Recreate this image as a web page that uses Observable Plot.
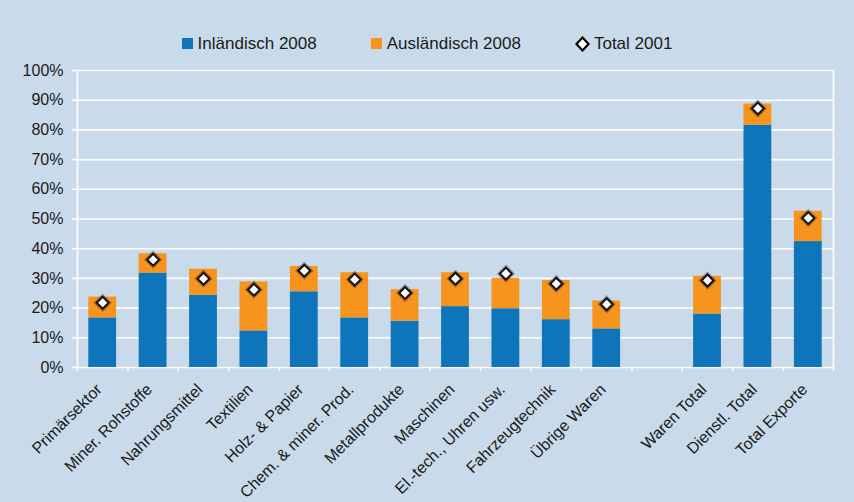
<!DOCTYPE html>
<html>
<head>
<meta charset="utf-8">
<script src="https://cdn.jsdelivr.net/npm/d3@7"></script>
<script src="https://cdn.jsdelivr.net/npm/@observablehq/plot@0.6"></script>
<style>
  html, body { margin: 0; padding: 0; background: #c9daea; overflow: hidden; }
  body { width: 854px; height: 502px; font-family: "Liberation Sans", Arial, sans-serif; color: #1a1a1a; }
  #legend { height: 56px; box-sizing: border-box; padding-top: 31px; display: flex; justify-content: center; align-items: center; font-size: 17px; line-height: 20px; }
  .item { display: flex; align-items: center; }
  .item + .item { margin-left: 54px; }
  .sw { width: 11px; height: 11px; margin-right: 5px; }
  .item svg { margin-right: 4px; }
</style>
</head>
<body>
<div id="legend"></div>
<div id="chart"></div>
<script>
const categories = ["Primärsektor","Miner. Rohstoffe","Nahrungsmittel","Textilien","Holz- & Papier","Chem. & miner. Prod.","Metallprodukte","Maschinen","El.-tech., Uhren usw.","Fahrzeugtechnik","Übrige Waren", null, "Waren Total","Dienstl. Total","Total Exporte"];
const inland2008  = [16.7, 31.8, 24.3, 12.3, 25.5, 16.7, 15.6, 20.5, 19.8, 16.1, 13.0, null, 18.0, 81.6, 42.4];
const ausland2008 = [ 7.0,  6.5,  8.8, 16.5,  8.5, 15.2, 10.6, 11.4, 10.2, 13.2,  9.4, null, 12.7,  7.1, 10.2];
const total2001   = [21.8, 36.3, 29.9, 26.2, 32.6, 29.6, 25.1, 29.9, 31.6, 28.2, 21.3, null, 29.3, 87.2, 50.3];
const seriesNames = ["Inländisch 2008", "Ausländisch 2008", "Total 2001"];
const seriesColors = ["#0f75bb", "#f7941e"];
const yTicks = [0,10,20,30,40,50,60,70,80,90,100];

// legend
const legend = document.getElementById("legend");
seriesNames.forEach((name, k) => {
  const it = document.createElement("div");
  it.className = "item";
  if (k < 2) {
    const sw = document.createElement("div");
    sw.className = "sw";
    sw.style.background = seriesColors[k];
    it.appendChild(sw);
  } else {
    const ns = "http://www.w3.org/2000/svg";
    const s = document.createElementNS(ns, "svg");
    s.setAttribute("width", 15); s.setAttribute("height", 16);
    const p = document.createElementNS(ns, "path");
    p.setAttribute("d", "M7.5,1.5 L13.5,8 L7.5,14.5 L1.5,8 Z");
    p.setAttribute("fill", "white"); p.setAttribute("stroke", "#000"); p.setAttribute("stroke-width", "2.2");
    s.appendChild(p);
    it.appendChild(s);
  }
  const t = document.createElement("span");
  t.textContent = name;
  it.appendChild(t);
  legend.appendChild(it);
});

const stackRows = [];
categories.forEach((c, i) => {
  if (c === null) return;
  stackRows.push({i, series: seriesNames[0], value: inland2008[i]});
  stackRows.push({i, series: seriesNames[1], value: ausland2008[i]});
});
stackRows.sort((a, b) => seriesNames.indexOf(a.series) - seriesNames.indexOf(b.series));
const dotRows = categories.map((c, i) => ({i, c, v: total2001[i]})).filter(d => d.c !== null);
const labelRows = dotRows;
const n = categories.length;

const chart = Plot.plot({
  width: 854,
  height: 446,
  marginTop: 14,
  marginBottom: 135,
  marginLeft: 77,
  marginRight: 21,
  style: {background: "transparent", fontFamily: "'Liberation Sans', Arial, sans-serif", color: "#1a1a1a", overflow: "visible"},
  x: {domain: [0, n], label: null},
  y: {domain: [0, 100], label: null},
  color: {domain: seriesNames.slice(0, 2), range: seriesColors},
  marks: [
    Plot.gridY(yTicks, {stroke: "white", strokeOpacity: 1, strokeWidth: 1.6}),
    Plot.ruleX([0, n], {y1: 0, y2: 100, stroke: "white", strokeWidth: 1.6}),
    Plot.axisY(yTicks, {tickFormat: d => d + "%", tickSize: 5, tickPadding: 9, stroke: "white", strokeWidth: 1.6, strokeOpacity: 1, fill: "#1a1a1a", fontSize: 16, label: null}),
    Plot.axisX(d3.range(n + 1), {tickFormat: () => "", tickSize: 4, stroke: "white", strokeWidth: 1.6, strokeOpacity: 1, label: null}),
    Plot.rectY(stackRows, Plot.stackY({x1: "i", x2: d => d.i + 1, y: "value", fill: "series", insetLeft: 11.3, insetRight: 11.3, order: null})),
    Plot.dot(dotRows, {x: d => d.i + 0.5, y: "v", symbol: "diamond2", r: 5.4, fill: "none", stroke: "#000", strokeWidth: 4.5, strokeOpacity: 0.3}),
    Plot.dot(dotRows, {x: d => d.i + 0.5, y: "v", symbol: "diamond2", r: 5.4, fill: "white", stroke: "#111", strokeWidth: 2}),
    Plot.text(labelRows, {x: d => d.i + 0.5, y: () => 0, text: "c", rotate: -45, textAnchor: "end", lineAnchor: "bottom", dx: 0, dy: 23, fontSize: 16, fill: "#1a1a1a"})
  ]
});
document.getElementById("chart").appendChild(chart);
</script>
</body>
</html>
